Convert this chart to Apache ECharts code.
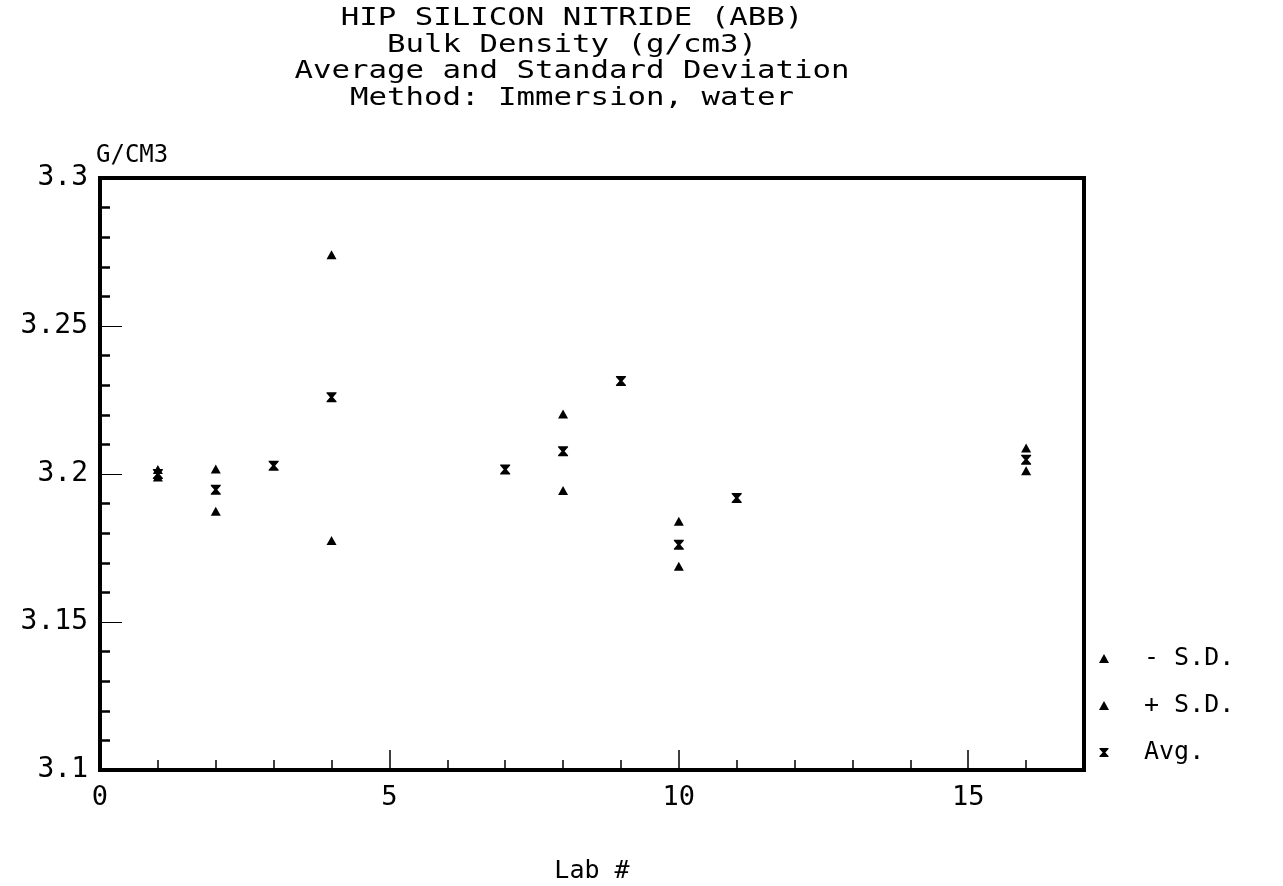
<!DOCTYPE html>
<html>
<head>
<meta charset="utf-8">
<script src="https://cdn.jsdelivr.net/npm/echarts@6/dist/echarts.min.js"></script>
<style>
html,body{margin:0;padding:0;background:#fff;}
#chart{width:1283px;height:886px;}
</style>
</head>
<body>
<div id="chart"></div>
<script>
// ---- data ----
var labs      = [1,      2,      3,      4,      7,      8,      9,      10,     11,     16];
var avgVals   = [3.2000, 3.1947, 3.2028, 3.2259, 3.2015, 3.2077, 3.2314, 3.1761, 3.1919, 3.2048];
var plusSD    = [3.2015, 3.2017, null,   3.2741, null,   3.2203, null,   3.1840, null,   3.2088];
var minusSD   = [3.1990, 3.1874, null,   3.1775, null,   3.1944, null,   3.1688, null,   3.2011];
var yTicks    = [3.1, 3.15, 3.2, 3.25, 3.3];
var titleLines = ['HIP SILICON NITRIDE (ABB)', 'Bulk Density (g/cm3)', 'Average and Standard Deviation', 'Method: Immersion, water'];

function pairs(vals){
  var out = [];
  for (var i = 0; i < labs.length; i++) if (vals[i] != null) out.push([labs[i], vals[i]]);
  return out;
}

var FONT = 'DejaVu Sans Mono';
var hourglass = 'path://M0,0 L10,0 L10,1 L6.5,5 L10,9 L10,10 L0,10 L0,9 L3.5,5 L0,1 Z';

var titleGraphics = titleLines.map(function(t, i){
  return {
    type: 'text', x: 572, y: 19 + i * 26.5, scaleX: 1.28, silent: true,
    style: {text: t, fill: '#000', font: '24px "DejaVu Sans Mono"', textAlign: 'center', textVerticalAlign: 'middle'}
  };
});

var chart = echarts.init(document.getElementById('chart'));
chart.setOption({
  backgroundColor: '#fff',
  animation: false,
  graphic: titleGraphics,
  grid: {left: 100, right: 199, top: 178, bottom: 116, containLabel: false, outerBoundsMode: 'none',
         show: true, borderColor: '#000', borderWidth: 4, backgroundColor: 'transparent'},
  legend: {
    orient: 'vertical', left: 1094, top: 641, itemGap: 22, itemWidth: 10, itemHeight: 9,
    textStyle: {fontFamily: FONT, fontSize: 25, color: '#000', padding: [0,0,0,30]},
    data: [
      {name: '- S.D.', icon: 'triangle'},
      {name: '+ S.D.', icon: 'triangle'},
      {name: 'Avg.', icon: hourglass}
    ]
  },
  xAxis: {
    type: 'value', min: 0, max: 17, interval: 5,
    name: 'Lab #', nameLocation: 'middle', nameGap: 89,
    nameTextStyle: {fontFamily: FONT, fontSize: 25, color: '#000'},
    axisLine: {show: true, onZero: false, lineStyle: {color: '#000', width: 4}},
    axisTick: {show: true, inside: true, length: 20, lineStyle: {color: '#000', width: 1.5}},
    minorTick: {show: true, splitNumber: 5, length: 10, lineStyle: {color: '#000', width: 1.5}},
    axisLabel: {fontFamily: FONT, fontSize: 27, color: '#000', margin: 14,
      formatter: function(v){ return v <= 15 ? String(v) : ''; }},
    splitLine: {show: false}
  },
  yAxis: {
    type: 'value', min: 3.1, max: 3.3, interval: 0.05,
    name: 'G/CM3', nameLocation: 'end', nameGap: 10,
    nameTextStyle: {fontFamily: FONT, fontSize: 24, color: '#000', align: 'left', padding: [0,0,0,-4]},
    axisLine: {show: true, onZero: false, lineStyle: {color: '#000', width: 4}},
    axisTick: {show: true, inside: true, length: 22, lineStyle: {color: '#000', width: 1}},
    minorTick: {show: true, splitNumber: 5, length: 10, lineStyle: {color: '#000', width: 2.5}},
    axisLabel: {fontFamily: FONT, fontSize: 28, color: '#000', margin: 12,
      formatter: function(v){ var s = yTicks.filter(function(t){return Math.abs(t-v)<1e-9;}); return s.length ? String(s[0]) : ''; }},
    splitLine: {show: false}
  },
  series: [
    {name: '- S.D.', type: 'scatter', symbol: 'triangle', symbolSize: [10, 9], itemStyle: {color: '#000', opacity: 1}, data: pairs(minusSD)},
    {name: '+ S.D.', type: 'scatter', symbol: 'triangle', symbolSize: [10, 9], itemStyle: {color: '#000', opacity: 1}, data: pairs(plusSD)},
    {name: 'Avg.', type: 'scatter', symbol: hourglass, symbolSize: [10, 10], itemStyle: {color: '#000', opacity: 1}, data: pairs(avgVals)}
  ]
});
</script>
</body>
</html>
